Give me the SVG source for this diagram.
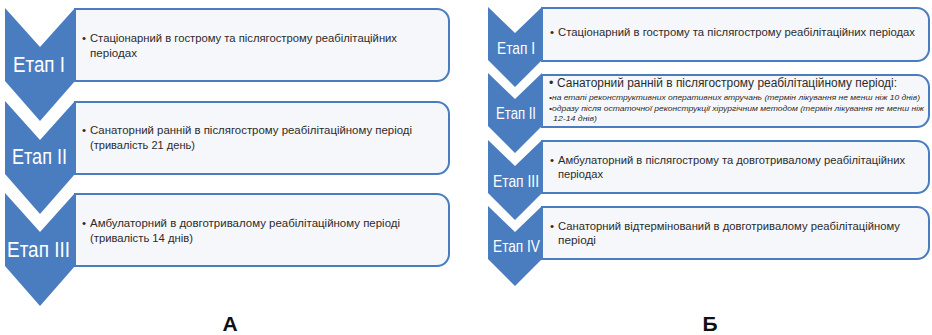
<svg xmlns="http://www.w3.org/2000/svg" width="932" height="335" viewBox="0 0 932 335">
<style>
.chev{fill:#4a7dc0;}
.box{fill:#f6f7fa;stroke:#4a7dc0;stroke-width:2;}
.lbl{fill:#ffffff;font-family:"Liberation Sans","DejaVu Sans",sans-serif;}
.la{font-size:22px;}
.lb{font-size:17px;}
.t{fill:#2b2b2b;font-family:"Liberation Sans","DejaVu Sans",sans-serif;font-size:11.5px;}
.big{font-size:12.5px;}
.it{font-style:italic;font-size:8px;}
.cap{fill:#111;font-family:"Liberation Sans","DejaVu Sans",sans-serif;font-size:21px;font-weight:bold;text-anchor:middle;}
</style>
<rect width="932" height="335" fill="#ffffff"/>
<g id="connectors"/>
<!-- Diagram A -->
<g id="a-stage1">
<path class="box" d="M75,9 H437 A12,12 0 0 1 449,21 V69 A12,12 0 0 1 437,81 H75 Z"/>
<path class="chev" d="M5,8 L40,47 L75,8 L75,81 L40,121 L5,81 Z"/>
<text class="lbl la" x="13" y="72" textLength="52" lengthAdjust="spacingAndGlyphs">Етап I</text>
<text class="t" x="82" y="42">•</text>
<text class="t" x="90" y="42" textLength="307" lengthAdjust="spacingAndGlyphs">Стаціонарний в гострому та післягострому реабілітаційних</text>
<text class="t" x="90" y="57" textLength="47" lengthAdjust="spacingAndGlyphs">періодах</text>
</g>
<g id="a-stage2">
<path class="box" d="M75,102 H437 A12,12 0 0 1 449,114 V162 A12,12 0 0 1 437,174 H75 Z"/>
<path class="chev" d="M5,101 L40,140 L75,101 L75,174 L40,214 L5,174 Z"/>
<text class="lbl la" x="12" y="164" textLength="55" lengthAdjust="spacingAndGlyphs">Етап II</text>
<text class="t" x="82" y="134">•</text>
<text class="t" x="90" y="134" textLength="322" lengthAdjust="spacingAndGlyphs">Санаторний ранній в післягострому реабілітаційному  періоді</text>
<text class="t" x="90" y="149" textLength="105" lengthAdjust="spacingAndGlyphs">(тривалість 21 день)</text>
</g>
<g id="a-stage3">
<path class="box" d="M75,194 H437 A12,12 0 0 1 449,206 V254 A12,12 0 0 1 437,266 H75 Z"/>
<path class="chev" d="M5,193 L40,232 L75,193 L75,266 L40,306 L5,266 Z"/>
<text class="lbl la" x="7" y="257" textLength="63" lengthAdjust="spacingAndGlyphs">Етап III</text>
<text class="t" x="82" y="227">•</text>
<text class="t" x="90" y="227" textLength="310" lengthAdjust="spacingAndGlyphs">Амбулаторний в довготривалому реабілітаційному  періоді</text>
<text class="t" x="90" y="242" textLength="103" lengthAdjust="spacingAndGlyphs">(тривалість 14 днів)</text>
</g>
<text id="label-a" class="cap" x="230" y="331">А</text>
<!-- Diagram B -->
<g id="b-stage1">
<path class="box" d="M542,8 H917 A12,12 0 0 1 929,20 V49 A12,12 0 0 1 917,61 H542 Z"/>
<path class="chev" d="M488,7 L515,33 L542,7 L542,60 L515,87 L488,60 Z"/>
<text class="lbl lb" x="497" y="54" textLength="38" lengthAdjust="spacingAndGlyphs">Етап I</text>
<text class="t" x="550" y="36">•</text>
<text class="t" x="558" y="36" textLength="357" lengthAdjust="spacingAndGlyphs">Стаціонарний в гострому та післягострому реабілітаційних  періодах</text>
</g>
<g id="b-stage2">
<path class="box" d="M542,75 H917 A12,12 0 0 1 929,87 V115 A12,12 0 0 1 917,127 H542 Z"/>
<path class="chev" d="M488,73 L515,99 L542,73 L542,126 L515,153 L488,126 Z"/>
<text class="lbl lb" x="496" y="119" textLength="40" lengthAdjust="spacingAndGlyphs">Етап II</text>
<text class="t big" x="549" y="87">•</text>
<text class="t big" x="557" y="87" textLength="340" lengthAdjust="spacingAndGlyphs">Санаторний ранній в післягострому реабілітаційному  періоді:</text>
<text class="t it" x="549" y="100" textLength="371" lengthAdjust="spacingAndGlyphs">•на етапі реконструктивних оперативних втручань (термін лікування не менш ніж 10 днів)</text>
<text class="t it" x="549" y="111" textLength="375" lengthAdjust="spacingAndGlyphs">•одразу після остаточної реконструкції хірургічним методом (термін лікування не менш ніж</text>
<text class="t it" x="553" y="121" textLength="44" lengthAdjust="spacingAndGlyphs">12-14 днів)</text>
</g>
<g id="b-stage3">
<path class="box" d="M542,141 H917 A12,12 0 0 1 929,153 V181 A12,12 0 0 1 917,193 H542 Z"/>
<path class="chev" d="M488,140 L515,166 L542,140 L542,193 L515,220 L488,193 Z"/>
<text class="lbl lb" x="493" y="187" textLength="46" lengthAdjust="spacingAndGlyphs">Етап III</text>
<text class="t" x="550" y="164">•</text>
<text class="t" x="558" y="164" textLength="347" lengthAdjust="spacingAndGlyphs">Амбулаторний в післягострому та довготривалому реабілітаційних</text>
<text class="t" x="558" y="178" textLength="45" lengthAdjust="spacingAndGlyphs">періодах</text>
</g>
<g id="b-stage4">
<path class="box" d="M542,207 H917 A12,12 0 0 1 929,219 V247 A12,12 0 0 1 917,259 H542 Z"/>
<path class="chev" d="M488,206 L515,232 L542,206 L542,259 L515,286 L488,259 Z"/>
<text class="lbl lb" x="493" y="252" textLength="47" lengthAdjust="spacingAndGlyphs">Етап IV</text>
<text class="t" x="550" y="230">•</text>
<text class="t" x="558" y="230" textLength="342" lengthAdjust="spacingAndGlyphs">Санаторний відтермінований в довготривалому реабілітаційному</text>
<text class="t" x="558" y="244" textLength="38" lengthAdjust="spacingAndGlyphs">періоді</text>
</g>
<text id="label-b" class="cap" x="710" y="331">Б</text>
</svg>
